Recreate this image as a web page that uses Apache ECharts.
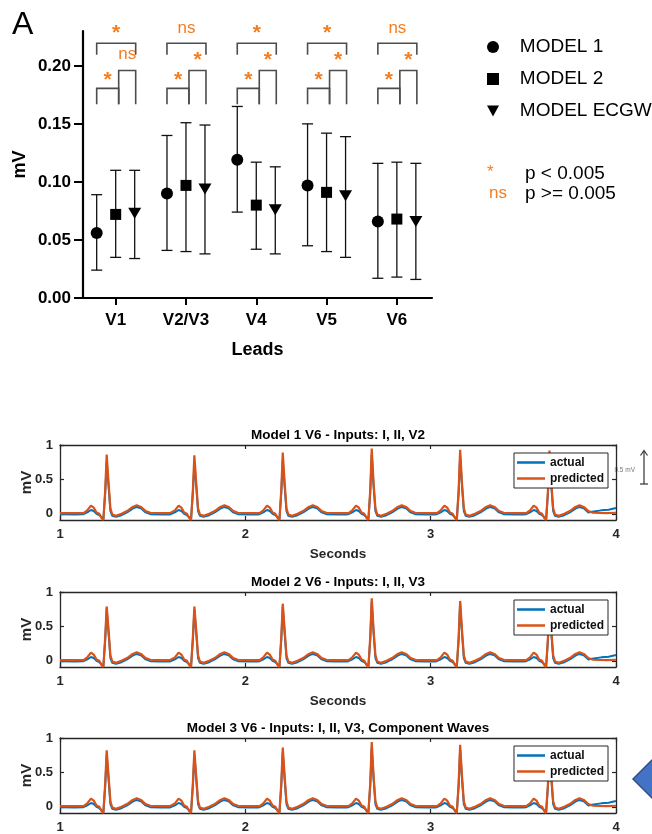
<!DOCTYPE html>
<html>
<head>
<meta charset="utf-8">
<title>V6 model comparison</title>
<script src="https://cdn.jsdelivr.net/npm/echarts@6.0.0/dist/echarts.min.js"></script>
<style>
  body { margin: 0; background: #fff; }
  #main { width: 652px; height: 834px; }
</style>
</head>
<body>
<div id="main"></div>
<script>
// ---- panel A: mean with range, per lead ----
var leads = ['V1', 'V2/V3', 'V4', 'V5', 'V6'];
var yTicks = [0, 0.05, 0.10, 0.15, 0.20];

var m1Mean = [0.056, 0.090, 0.119, 0.097, 0.066];
var m1Low  = [0.024, 0.041, 0.074, 0.045, 0.017];
var m1High = [0.089, 0.140, 0.165, 0.150, 0.116];

var m2Mean = [0.072, 0.097, 0.080, 0.091, 0.068];
var m2Low  = [0.035, 0.040, 0.042, 0.040, 0.018];
var m2High = [0.110, 0.151, 0.117, 0.142, 0.117];

var m3Mean = [0.073, 0.094, 0.076, 0.088, 0.066];
var m3Low  = [0.034, 0.038, 0.038, 0.035, 0.016];
var m3High = [0.110, 0.149, 0.113, 0.139, 0.116];

// significance: model 1 vs 2, model 2 vs ECGW, model 1 vs ECGW
var sig12 = ['*', '*', '*', '*', '*'];
var sig23 = ['ns', '*', '*', '*', '*'];
var sig13 = ['*', 'ns', '*', '*', 'ns'];

// ---- ECG traces of V6 (seconds, mV) ----
var secTicks = [1, 2, 3, 4];
var mvTicks = [0, 0.5, 1];
var beatTimes = [1.252, 1.725, 2.202, 2.682, 3.159, 3.641];
// one beat, offsets from the R peak (s); the value at offset 0 comes from the peak lists
var beatOffsets = [-0.125, -0.105, -0.085, -0.07, -0.055, -0.04, -0.028, -0.018, -0.008, 0, 0.01, 0.02, 0.03, 0.05, 0.08, 0.11, 0.14, 0.162, 0.185, 0.21, 0.235, 0.29, 0.34];
var actualBeat = [-0.005, 0.02, 0.055, 0.04, 0.0, -0.02, -0.05, -0.08, 0.3, null, 0.4, 0.04, -0.03, -0.045, -0.02, 0.02, 0.075, 0.1, 0.08, 0.02, -0.005, -0.01, -0.01];
var predBeat = [0.01, 0.05, 0.12, 0.09, 0.02, 0.0, -0.06, -0.09, 0.35, null, 0.45, 0.08, -0.01, -0.03, 0.0, 0.04, 0.1, 0.125, 0.1, 0.04, 0.015, 0.01, 0.01];
var actualPeaks = [0.76, 0.75, 0.79, 0.86, 0.84, 0.76];
var predPeaks1 = [0.86, 0.85, 0.89, 0.95, 0.93, 0.92];
var predPeaks2 = [0.79, 0.79, 0.83, 0.91, 0.87, 0.82];
var predPeaks3 = [0.82, 0.82, 0.86, 0.94, 0.90, 0.85];
var actualStart = [[1.0, -0.005], [1.08, -0.01]];
var predStart = [[1.0, 0.01], [1.08, 0.01]];
var actualEnd = [[3.87, 0.03], [3.92, 0.05], [3.96, 0.06], [4.0, 0.085]];
var predEnd = [[3.88, 0.015], [3.95, 0.01], [4.0, 0.015]];

var FONT = 'Liberation Sans, Arial, sans-serif';
var ORANGE = '#F47D20';
var BLUE = '#0072BD';
var RED = '#D95319';
var AXIS = '#262626';
var markerOffset = [-19, 0, 19];

function buildTrace(start, beat, peaks, end) {
  var pts = start.slice();
  beatTimes.forEach(function (t0, b) {
    beatOffsets.forEach(function (dt, j) {
      pts.push([+(t0 + dt).toFixed(3), dt === 0 ? peaks[b] : beat[j]]);
    });
  });
  pts = pts.filter(function (p) { return p[0] < end[0][0]; });
  return pts.concat(end);
}

function errorBars(k, low, high) {
  return {
    type: 'custom',
    xAxisIndex: 0,
    yAxisIndex: 0,
    silent: true,
    z: 2,
    data: leads.map(function (l, i) { return [i, low[i], high[i]]; }),
    renderItem: function (params, api) {
      var lo = api.coord([api.value(0), api.value(1)]);
      var hi = api.coord([api.value(0), api.value(2)]);
      var x = lo[0] + markerOffset[k];
      var st = { stroke: '#111', lineWidth: 1.3 };
      return {
        type: 'group',
        children: [
          { type: 'line', shape: { x1: x, y1: lo[1], x2: x, y2: hi[1] }, style: st },
          { type: 'line', shape: { x1: x - 5.5, y1: lo[1], x2: x + 5.5, y2: lo[1] }, style: st },
          { type: 'line', shape: { x1: x - 5.5, y1: hi[1], x2: x + 5.5, y2: hi[1] }, style: st }
        ]
      };
    }
  };
}

function markers(k, name, symbol, size, rotate, mean) {
  return {
    type: 'scatter',
    name: name,
    xAxisIndex: 0,
    yAxisIndex: 0,
    symbol: symbol,
    symbolSize: size,
    symbolRotate: rotate,
    symbolOffset: [markerOffset[k], 0],
    itemStyle: { color: '#000', opacity: 1 },
    z: 3,
    data: mean.map(function (v, i) { return [i, v]; })
  };
}

function sigText(s, x, y) {
  if (s === '*') {
    return { type: 'text', style: { text: '*', x: x, y: y + 5, align: 'center', verticalAlign: 'middle',
      fill: ORANGE, fontFamily: FONT, fontWeight: 'bold', fontSize: 21 } };
  }
  return { type: 'text', style: { text: s, x: x, y: y, align: 'center', verticalAlign: 'middle',
    fill: ORANGE, fontFamily: FONT, fontSize: 17 } };
}

var brackets = {
  type: 'custom',
  xAxisIndex: 0,
  yAxisIndex: 0,
  silent: true,
  clip: false,
  z: 4,
  data: leads.map(function (l, i) { return [i]; }),
  renderItem: function (params, api) {
    var i = api.value(0);
    var cx = api.coord([i, 0])[0];
    var xa = cx - 19, xb = cx + 3, xc = cx + 20;
    var y = function (v) { return api.coord([i, v])[1]; };
    var st = { stroke: '#4d4d4d', lineWidth: 1.6, fill: null };
    var leg = y(0.167);
    return {
      type: 'group',
      children: [
        { type: 'polyline', shape: { points: [[xa, leg], [xa, y(0.1806)], [xb, y(0.1806)], [xb, leg]] }, style: st },
        { type: 'polyline', shape: { points: [[xb, leg], [xb, y(0.196)], [xc, y(0.196)], [xc, leg]] }, style: st },
        { type: 'polyline', shape: { points: [[xa, y(0.2095)], [xa, y(0.2195)], [xc, y(0.2195)], [xc, y(0.2095)]] }, style: st },
        sigText(sig12[i], (xa + xb) / 2, y(0.192)),
        sigText(sig23[i], (xb + xc) / 2, y(0.2095)),
        sigText(sig13[i], (xa + xc) / 2, y(0.232))
      ]
    };
  }
};

var grids = [{ left: 83, width: 349, top: 31, height: 267 }];
var xAxes = [{
  type: 'value', gridIndex: 0, min: -0.465, max: 4.5,
  name: 'Leads', nameLocation: 'middle', nameGap: 43,
  nameTextStyle: { fontFamily: FONT, fontWeight: 'bold', fontSize: 18, color: '#000' },
  axisLine: { show: true, onZero: false, lineStyle: { color: '#000', width: 2.2 } },
  axisTick: { show: true, customValues: [0, 1, 2, 3, 4], length: 7, lineStyle: { color: '#000', width: 2 } },
  axisLabel: { customValues: [0, 1, 2, 3, 4], formatter: function (v) { return leads[Math.round(v)]; },
    fontFamily: FONT, fontWeight: 'bold', fontSize: 17, color: '#000', margin: 14 },
  splitLine: { show: false }
}];
var yAxes = [{
  type: 'value', gridIndex: 0, min: 0, max: 0.23,
  name: 'mV', nameLocation: 'middle', nameGap: 54, nameRotate: 90, nameMoveOverlap: false,
  nameTextStyle: { fontFamily: FONT, fontWeight: 'bold', fontSize: 18, color: '#000' },
  axisLine: { show: true, onZero: false, lineStyle: { color: '#000', width: 2.2 } },
  axisTick: { show: true, customValues: yTicks, length: 9, lineStyle: { color: '#000', width: 2 } },
  axisLabel: { customValues: yTicks, formatter: function (v) { return v.toFixed(2); },
    fontFamily: FONT, fontWeight: 'bold', fontSize: 17, color: '#000', margin: 12 },
  splitLine: { show: false }
}];

var series = [
  errorBars(0, m1Low, m1High),
  errorBars(1, m2Low, m2High),
  errorBars(2, m3Low, m3High),
  markers(0, 'MODEL 1', 'circle', 12, 0, m1Mean),
  markers(1, 'MODEL 2', 'rect', 11, 0, m2Mean),
  markers(2, 'MODEL ECGW', 'triangle', [13, 11], 180, m3Mean),
  brackets
];

var legends = [{
  data: ['MODEL 1', 'MODEL 2', { name: 'MODEL ECGW', icon: 'path://M0,0L12,0L6,11Z' }],
  orient: 'vertical', left: 482, top: 32,
  itemWidth: 12, itemHeight: 12, itemGap: 12,
  selectedMode: false,
  formatter: function (n) { return '   ' + n; },
  textStyle: { fontFamily: FONT, fontSize: 19, color: '#000', lineHeight: 20 }
}];

var ecgPanels = [
  { title: 'Model 1 V6 - Inputs: I, II, V2', top: 445, peaks: predPeaks1, seconds: true },
  { title: 'Model 2 V6 - Inputs: I, II, V3', top: 592, peaks: predPeaks2, seconds: true },
  { title: 'Model 3 V6 - Inputs: I, II, V3, Component Waves', top: 738, peaks: predPeaks3, seconds: false }
];

var graphics = [
  { type: 'text', left: 12, top: 9, style: { text: 'A', fontFamily: FONT, fontSize: 32, fill: '#000' } },
  { type: 'text', style: { text: '*', x: 487, y: 164, verticalAlign: 'top', fontFamily: FONT, fontSize: 17, fill: ORANGE } },
  { type: 'text', style: { text: 'p < 0.005', x: 525, y: 174, verticalAlign: 'middle', fontFamily: FONT, fontSize: 19, fill: '#000' } },
  { type: 'text', style: { text: 'ns', x: 489, y: 193, verticalAlign: 'middle', fontFamily: FONT, fontSize: 17, fill: ORANGE } },
  { type: 'text', style: { text: 'p >= 0.005', x: 525, y: 194, verticalAlign: 'middle', fontFamily: FONT, fontSize: 19, fill: '#000' } },
  // 0.5 mV scale bar beside the first trace
  { type: 'line', shape: { x1: 644, y1: 451, x2: 644, y2: 484 }, style: { stroke: '#333', lineWidth: 1.2 } },
  { type: 'polyline', shape: { points: [[640.5, 455.5], [644, 450.5], [647.5, 455.5]] }, style: { stroke: '#333', lineWidth: 1.2, fill: null } },
  { type: 'line', shape: { x1: 640, y1: 484, x2: 648, y2: 484 }, style: { stroke: '#333', lineWidth: 1.2 } },
  { type: 'text', style: { text: '0.5 mV', x: 635, y: 470, align: 'right', verticalAlign: 'middle', fontFamily: FONT, fontSize: 6.5, fill: '#777' } },
  // arrow shape cut by the right edge
  { type: 'polygon', shape: { points: [[633, 779], [673, 739], [713, 779], [673, 819]] }, style: { fill: '#4472C4', stroke: '#2F528F', lineWidth: 1.5 } }
];

function ecgX(g, pos, withName) {
  return {
    type: 'value', gridIndex: g, position: pos, min: 1, max: 4, interval: 1,
    name: withName ? 'Seconds' : '', nameLocation: 'middle', nameGap: 27,
    nameTextStyle: { fontFamily: FONT, fontWeight: 'bold', fontSize: 13.5, color: AXIS },
    axisLine: { show: true, onZero: false, lineStyle: { color: AXIS, width: 1.3 } },
    axisTick: { show: true, inside: true, length: 4, lineStyle: { color: AXIS, width: 1.2 } },
    axisLabel: { show: pos === 'bottom', fontFamily: FONT, fontWeight: 'bold', fontSize: 13, color: AXIS, margin: 8 },
    splitLine: { show: false }
  };
}

function ecgY(g, pos) {
  return {
    type: 'value', gridIndex: g, position: pos, min: -0.09, max: 1,
    name: pos === 'left' ? 'mV' : '', nameLocation: 'middle', nameGap: 26, nameRotate: 90, nameMoveOverlap: false,
    nameTextStyle: { fontFamily: FONT, fontWeight: 'bold', fontSize: 15, color: AXIS },
    axisLine: { show: true, onZero: false, lineStyle: { color: AXIS, width: 1.3 } },
    axisTick: { show: true, inside: true, length: 4, customValues: mvTicks, lineStyle: { color: AXIS, width: 1.2 } },
    axisLabel: { show: pos === 'left', customValues: mvTicks, fontFamily: FONT, fontWeight: 'bold', fontSize: 13, color: AXIS, margin: 7 },
    splitLine: { show: false }
  };
}

ecgPanels.forEach(function (p, k) {
  var g = k + 1;
  grids.push({ left: 60, right: 36, top: p.top, height: 75 });
  xAxes.push(ecgX(g, 'bottom', p.seconds));
  xAxes.push(ecgX(g, 'top', false));
  yAxes.push(ecgY(g, 'left'));
  yAxes.push(ecgY(g, 'right'));
  var ai = 1 + 2 * k;
  series.push({
    type: 'line', name: 'actual', xAxisIndex: ai, yAxisIndex: ai,
    data: buildTrace(actualStart, actualBeat, actualPeaks, actualEnd),
    symbol: 'none', color: BLUE, lineStyle: { color: BLUE, width: 2 }, z: 2
  });
  series.push({
    type: 'line', name: 'predicted', xAxisIndex: ai, yAxisIndex: ai,
    data: buildTrace(predStart, predBeat, p.peaks, predEnd),
    symbol: 'none', color: RED, lineStyle: { color: RED, width: 2.2 }, z: 3
  });
  legends.push({
    data: ['actual', 'predicted'],
    orient: 'vertical', right: 44, top: p.top + 8,
    icon: 'rect', itemWidth: 28, itemHeight: 2.5, itemGap: 3,
    padding: [3, 4, 3, 3],
    borderColor: AXIS, borderWidth: 1, backgroundColor: '#fff',
    selectedMode: false,
    textStyle: { fontFamily: FONT, fontWeight: 'bold', fontSize: 12, color: '#111', lineHeight: 13 }
  });
  graphics.push({ type: 'text', style: { text: p.title, x: 338, y: p.top - 10, align: 'center', verticalAlign: 'middle',
    fontFamily: FONT, fontWeight: 'bold', fontSize: 13.5, fill: '#000' } });
});

var chart = echarts.init(document.getElementById('main'));
chart.setOption({
  animation: false,
  backgroundColor: '#fff',
  grid: grids,
  xAxis: xAxes,
  yAxis: yAxes,
  legend: legends,
  graphic: graphics,
  series: series
});
</script>
</body>
</html>
